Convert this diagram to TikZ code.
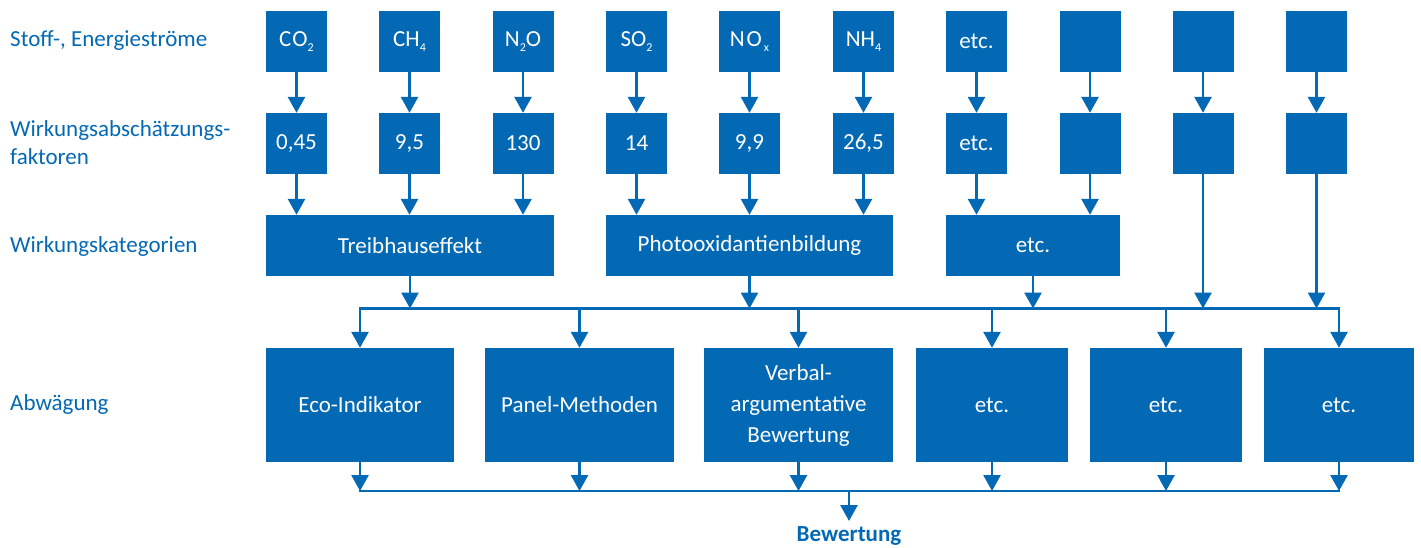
\documentclass[tikz,border=0pt]{standalone}
\usepackage{fontspec}
\setmainfont{Carlito}
\usetikzlibrary{arrows.meta}
\definecolor{fblue}{RGB}{3,105,180}
\newcommand{\subs}[1]{\raisebox{-0.5ex}{\fontsize{12}{12}\selectfont #1}}
\begin{document}
\begin{tikzpicture}[x=1pt,y=-1pt,
  box/.style={fill=fblue,text=white,inner sep=0pt,font=\fontsize{23}{31}\selectfont,align=center},
  sq/.style={box,minimum width=61pt,minimum height=61pt},
  lab/.style={text=fblue,anchor=west,inner sep=0pt,font=\fontsize{23}{28}\selectfont,align=left},
  arr/.style={draw=fblue,line width=2.7pt,-{Triangle[width=17pt,length=16pt]}},
  ln/.style={draw=fblue,line width=2.7pt,line cap=rect}]
\useasboundingbox (0,0) rectangle (1421,547);
% left labels
\node[lab] (l1) at (10,41) {Stoff-, Energieströme};
\node[lab] (l2) at (10,143) {Wirkungsabschätzungs-\\faktoren};
\node[lab] (l3) at (10,246) {Wirkungskategorien};
\node[lab] (l4) at (10,404) {Abwägung};
% row 1
\node[sq] (s1) at (296.5,41.5) {C\kern1pt O\subs{2}};
\node[sq] (s2) at (409.5,41.5) {CH\subs{4}};
\node[sq] (s3) at (523,41.5) {N\subs{2}O};
\node[sq] (s4) at (636.5,41.5) {SO\subs{2}};
\node[sq] (s5) at (749.5,41.5) {N\kern2pt O\kern2pt\subs{x}};
\node[sq] (s6) at (863.5,41.5) {NH\subs{4}};
\node[sq] (s7) at (976.5,41.5) {etc.};
\node[sq] (s8) at (1090,41.5) {};
\node[sq] (s9) at (1203,41.5) {};
\node[sq] (s10) at (1316.5,41.5) {};
% row 2
\node[sq] (f1) at (296.5,143.5) {0,45};
\node[sq] (f2) at (409.5,143.5) {9,5};
\node[sq] (f3) at (523,143.5) {130};
\node[sq] (f4) at (636.5,143.5) {14};
\node[sq] (f5) at (749.5,143.5) {9,9};
\node[sq] (f6) at (863.5,143.5) {26,5};
\node[sq] (f7) at (976.5,143.5) {etc.};
\node[sq] (f8) at (1090,143.5) {};
\node[sq] (f9) at (1203,143.5) {};
\node[sq] (f10) at (1316.5,143.5) {};
% row 3
\node[box,minimum width=288pt,minimum height=61pt] (k1) at (410,245.5) {Treibhauseffekt};
\node[box,minimum width=287pt,minimum height=61pt] (k2) at (749.5,245.5) {Photooxidantienbildung};
\node[box,minimum width=174pt,minimum height=61pt] (k3) at (1033,245.5) {etc.};
% row 4
\node[box,minimum width=188pt,minimum height=114pt] (a1) at (360,405) {Eco-Indikator};
\node[box,minimum width=189pt,minimum height=114pt] (a2) at (579.5,405) {Panel-Methoden};
\node[box,minimum width=189pt,minimum height=114pt] (a3) at (798.5,405) {Verbal-\\argumentative\\Bewertung};
\node[box,minimum width=152pt,minimum height=114pt] (a4) at (992,405) {etc.};
\node[box,minimum width=152pt,minimum height=114pt] (a5) at (1166,405) {etc.};
\node[box,minimum width=150pt,minimum height=114pt] (a6) at (1339,405) {etc.};
% result
\node[text=fblue,inner sep=0pt,font=\fontsize{23}{24}\selectfont\bfseries] (bew) at (849,536) {Bewertung};
\coordinate (tb) at (0,308.5);
\coordinate (bb) at (0,491);
\coordinate (bt) at (849,521);
% arrows row1 -> row2
\foreach \i in {1,...,10} { \draw[arr] (s\i) -- (f\i); }
% row2 -> row3
\foreach \i in {1,2,3} { \draw[arr] (f\i) -- (f\i |- k1.north); }
\foreach \i in {4,5,6} { \draw[arr] (f\i) -- (f\i |- k2.north); }
\foreach \i in {7,8} { \draw[arr] (f\i) -- (f\i |- k3.north); }
\foreach \i in {9,10} { \draw[arr] (f\i) -- (f\i |- tb); }
% row3 -> bus
\foreach \i in {1,2,3} { \draw[arr] (k\i) -- (k\i |- tb); }
% top bus
\draw[ln] (a1 |- tb) -- (a6 |- tb);
\foreach \i in {1,...,6} { \draw[arr] (a\i |- tb) -- (a\i.north); }
% bottom
\foreach \i in {1,...,6} { \draw[arr] (a\i) -- (a\i |- bb); }
\draw[ln] (a1 |- bb) -- (a6 |- bb);
\draw[arr] (bt |- bb) -- (bt);
\end{tikzpicture}
\end{document}
